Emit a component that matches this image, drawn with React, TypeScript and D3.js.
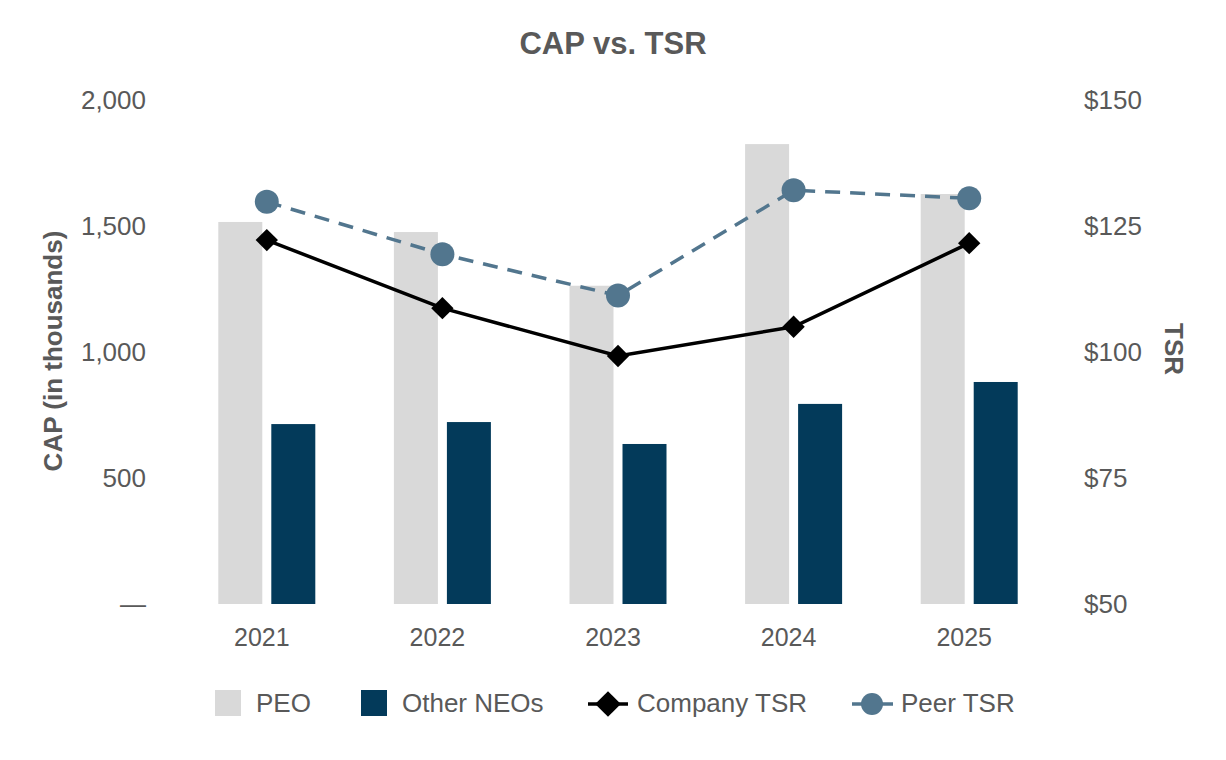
import * as d3 from 'd3';

// chart data
const years = ['2021', '2022', '2023', '2024', '2025'];
const peoCap = [1516, 1476, 1263, 1825, 1627];
const neoCap = [714, 722, 635, 794, 881];
const companyTsr = [122.2, 108.7, 99.2, 105.0, 121.6];
const peerTsr = [129.8, 119.4, 111.2, 132.1, 130.5];
const capTicks = [0, 500, 1000, 1500, 2000];
const tsrTicks = [50, 75, 100, 125, 150];
const seriesNames = ['PEO', 'Other NEOs'];

const W = 1226;
const H = 760;
const FONT = '"Liberation Sans", Arial, sans-serif';
const GREY = '#595959';
const PEO_COLOR = '#d9d9d9';
const NEO_COLOR = '#033a5a';
const PEER_COLOR = '#52768e';

const App = () => {
  const x0 = d3.scaleBand().domain(years).range([179, 1057]);
  const x1 = d3.scaleBand().domain(seriesNames).range([-48.5, 48.5]).paddingInner(0.17);
  const yCap = d3.scaleLinear().domain([0, 2000]).range([604, 100]);
  const yTsr = d3.scaleLinear().domain([50, 150]).range([604, 100]);

  const cx = (yr) => x0(yr) + x0.bandwidth() / 2;

  const tsrLine = d3.line()
    .x((d, i) => cx(years[i]))
    .y(d => yTsr(d));
  const diamond = d3.symbol(d3.symbolSquare, 250)();
  const legendDiamond = d3.symbol(d3.symbolSquare, 330)();

  const capFmt = d => (d === 0 ? '—' : d3.format(',')(d));

  return (
    <svg width={W} height={H} style={{ position: 'absolute', left: 0, top: 0 }} fontFamily={FONT}>
      <rect width={W} height={H} fill="#fff" />
      <text x={613} y={54} textAnchor="middle" fontSize={31} fontWeight="bold" fill={GREY}>
        CAP vs. TSR
      </text>

      {/* left axis */}
      {capTicks.map(t => (
        <text key={t} x={146} y={yCap(t) + 9} textAnchor="end" fontSize={26} fill={GREY}>
          {capFmt(t)}
        </text>
      ))}
      <text transform={`translate(62,351) rotate(-90)`} textAnchor="middle" fontSize={26}
        fontWeight="bold" fill={GREY}>
        CAP (in thousands)
      </text>

      {/* right axis */}
      {tsrTicks.map(t => (
        <text key={t} x={1084} y={yTsr(t) + 9} textAnchor="start" fontSize={26} fill={GREY}>
          {'$' + t}
        </text>
      ))}
      <text transform={`translate(1165,349) rotate(90)`} textAnchor="middle" fontSize={26}
        fontWeight="bold" fill={GREY}>
        TSR
      </text>

      {/* bars */}
      {years.map((yr, i) => (
        <g key={yr} transform={`translate(${cx(yr)},0)`}>
          <rect x={x1('PEO')} width={x1.bandwidth()} y={yCap(peoCap[i])}
            height={yCap(0) - yCap(peoCap[i])} fill={PEO_COLOR} />
          <rect x={x1('Other NEOs')} width={x1.bandwidth()} y={yCap(neoCap[i])}
            height={yCap(0) - yCap(neoCap[i])} fill={NEO_COLOR} />
        </g>
      ))}

      {/* x labels */}
      {years.map(yr => (
        <text key={yr} x={cx(yr) - 5} y={646} textAnchor="middle" fontSize={25} fill={GREY}>
          {yr}
        </text>
      ))}

      {/* peer TSR */}
      <path d={tsrLine(peerTsr)} fill="none" stroke={PEER_COLOR} strokeWidth={3.5}
        strokeDasharray="15,10" />
      {peerTsr.map((v, i) => (
        <circle key={i} cx={cx(years[i])} cy={yTsr(v)} r={12} fill={PEER_COLOR} />
      ))}

      {/* company TSR */}
      <path d={tsrLine(companyTsr)} fill="none" stroke="#000" strokeWidth={3.5} />
      {companyTsr.map((v, i) => (
        <path key={i} d={diamond} fill="#000"
          transform={`translate(${cx(years[i])},${yTsr(v)}) rotate(45)`} />
      ))}

      {/* legend */}
      <g fontSize={26} fill={GREY}>
        <rect x={215} y={690} width={26} height={26} fill={PEO_COLOR} />
        <text x={256} y={712}>PEO</text>
        <rect x={361} y={690} width={26} height={26} fill={NEO_COLOR} />
        <text x={402} y={712}>Other NEOs</text>
        <line x1={588} x2={628} y1={704} y2={704} stroke="#000" strokeWidth={3.5} />
        <path d={legendDiamond} fill="#000" transform="translate(608,704) rotate(45)" />
        <text x={637} y={712}>Company TSR</text>
        <line x1={852} x2={893} y1={704} y2={704} stroke={PEER_COLOR} strokeWidth={3.5} />
        <circle cx={872} cy={704} r={11} fill={PEER_COLOR} />
        <text x={901} y={712}>Peer TSR</text>
      </g>
    </svg>
  );
};

export default App;
